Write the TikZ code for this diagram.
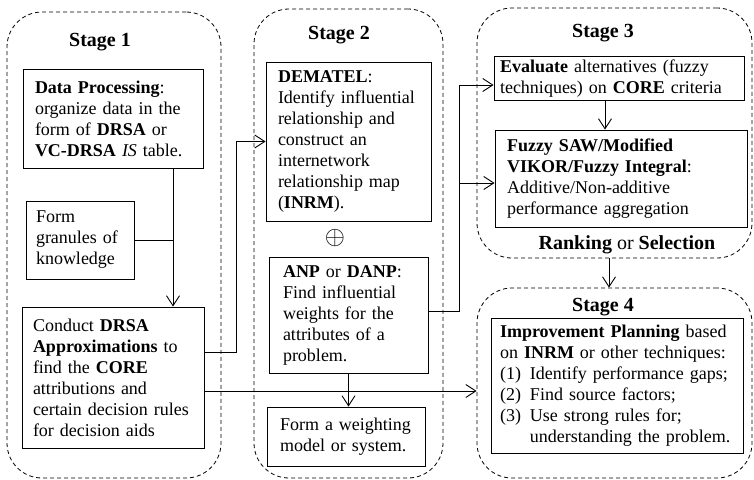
\documentclass[tikz,border=0pt]{standalone}
\usepackage{fontspec}
\setmainfont{Liberation Serif}
\usetikzlibrary{arrows.meta}
\newcommand{\boxfont}{\fontsize{18}{21}\selectfont}
\newcommand{\titlefont}{\fontsize{20}{24}\selectfont\bfseries}
\tikzstyle{stage} = [draw, dash pattern=on 4pt off 3pt, line width=0.8pt, rounded corners=35pt]
\tikzstyle{box} = [draw, line width=0.9pt, align=left, inner xsep=12pt, inner ysep=3pt, font=\boxfont]
\tikzstyle{title} = [font=\titlefont]
\tikzstyle{wire} = [line width=0.9pt]
\tikzstyle{arrow} = [line width=0.9pt, -{Straight Barb[length=10pt,width=13pt]}]

\begin{document}
\begin{tikzpicture}[x=1pt, y=-1pt]
    \useasboundingbox (0,0) rectangle (754,479);
    % dashed stage frames
    \node[stage, minimum width=214pt, minimum height=466pt] (s1) at (114,245) {};
    \node[stage, minimum width=189pt, minimum height=469pt] (s2) at (348.5,243.5) {};
    \node[stage, minimum width=275pt, minimum height=250pt] (s3) at (614.5,133) {};
    \node[stage, minimum width=275pt, minimum height=190pt] (s4) at (614.5,383) {};
    \node[title] (t1) at (100,42) {Stage 1};
    \node[title] (t2) at (339,35) {Stage 2};
    \node[title] (t3) at (603,33) {Stage 3};
    \node[title] (t4) at (603,307) {Stage 4};
    \node[font=\fontsize{20}{24}\selectfont] (rank) at (627,245) {\textbf{Ranking} or \textbf{Selection}};
    % stage 1
    \node[box, text width=156pt, minimum height=99pt] (data) at (113,118.5)
        {\textbf{Data Processing}:\\ organize data in the\\ form of \textbf{DRSA} or\\ \textbf{VC-DRSA} \textit{IS} table.};
    \node[box, inner xsep=10pt, text width=88pt, minimum height=78pt] (gran) at (80,240)
        {Form\\ granules of\\ knowledge};
    \node[box, inner xsep=11pt, text width=160pt, minimum height=141pt] (conduct) at (113,377.5)
        {Conduct \textbf{DRSA}\\ \textbf{Approximations} to\\ find the \textbf{CORE}\\ attributions and\\ certain decision rules\\ for decision aids};
    % stage 2
    \node[box, text width=141pt, minimum height=159pt] (dematel) at (348.5,141.5)
        {\textbf{DEMATEL}:\\ Identify influential\\ relationship and\\ construct an\\ internetwork\\ relationship map\\ (\textbf{INRM}).};
    \node[font=\boxfont] (plus) at (335,238) {\scalebox{1.5}{$\oplus$}};
    \node[box, inner xsep=14pt, text width=131pt, minimum height=116pt] (anp) at (348.5,315)
        {\textbf{ANP} or \textbf{DANP}:\\ Find influential\\ weights for the\\ attributes of a\\ problem.};
    \node[box, inner xsep=13pt, text width=132pt, minimum height=59pt] (form) at (346,436.5)
        {Form a weighting\\ model or system.};
    % stage 3
    \node[box, inner xsep=6pt, text width=238pt, minimum height=43pt] (eval) at (619,78.5)
        {\textbf{Evaluate} alternatives (fuzzy\\ techniques) on \textbf{CORE} criteria};
    \node[box, text width=228pt, minimum height=97pt] (fuzzy) at (621,178.5)
        {\textbf{Fuzzy SAW/Modified}\\ \textbf{VIKOR/Fuzzy Integral}:\\ Additive/Non-additive\\ performance aggregation};
    % stage 4
    \node[box, inner xsep=9pt, text width=234pt, minimum height=135pt] (impr) at (617,385.5)
        {\textbf{Improvement Planning} based\\ on \textbf{INRM} or other techniques:\\
         (1)\enspace Identify performance gaps;\\ (2)\enspace Find source factors;\\
         (3)\enspace Use strong rules for;\\ \mbox{\phantom{(3)\enspace}understanding the problem.}};
    % connectors
    \coordinate (trunk) at ([xshift=60pt]data.south);
    \draw[arrow] (trunk) -- (trunk |- conduct.north);
    \draw[wire] (gran.east) -- (gran.east -| trunk);
    \draw[arrow] ([yshift=25.5pt]conduct.east) -- ++(32,0) |- (dematel.west);
    \coordinate (c4) at ([yshift=-13.5pt]conduct.east);
    \draw[arrow] (c4) -- (c4 -| s4.west);
    \draw[arrow] (anp.south) -- (anp.south |- form.north);
    \coordinate (e3) at ([yshift=-6.5pt]eval.west);
    \coordinate (f3) at ([yshift=-4.5pt]fuzzy.west);
    \draw[arrow] ([yshift=4pt]anp.east) -- ++(31,0) coordinate (bus) |- (e3);
    \draw[arrow] (bus |- f3) -- (f3);
    \coordinate (e4) at ([xshift=-14pt]eval.south);
    \draw[arrow] (e4) -- (e4 |- fuzzy.north);
    \coordinate (r4) at ([xshift=-5.5pt]s3.south);
    \draw[arrow] (r4) -- (r4 |- s4.north);
\end{tikzpicture}
\end{document}
